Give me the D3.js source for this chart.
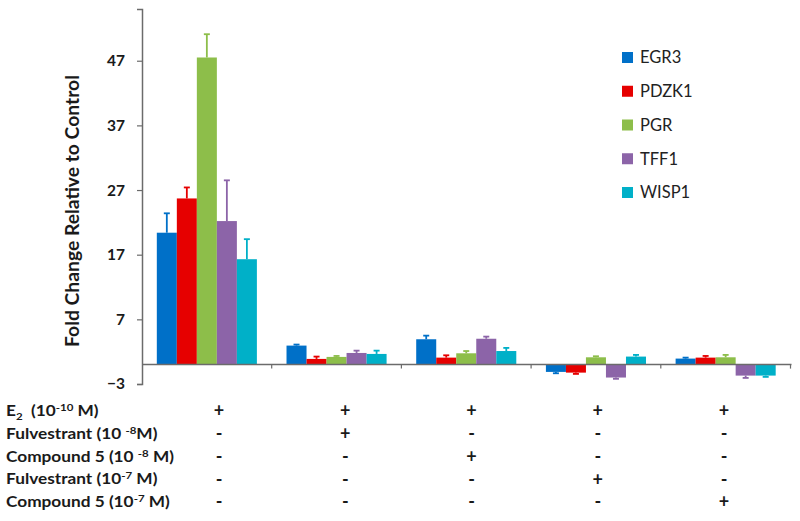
<!DOCTYPE html>
<html>
<head>
<meta charset="utf-8">
<script src="https://cdn.jsdelivr.net/npm/d3@7"></script>
<style>
  html, body { margin: 0; padding: 0; background: #fff; }
  svg { display: block; font-family: Lato, "Open Sans", sans-serif; }
</style>
</head>
<body>
<svg id="chart" width="800" height="521"></svg>
<script>
// ---- data ----
const groups = ["G1", "G2", "G3", "G4", "G5"];
const series = ["EGR3", "PDZK1", "PGR", "TFF1", "WISP1"];
const colors = ["#0070C8", "#E60000", "#8DBE4A", "#8C64A8", "#00B0C8"];
// values per series across the 5 groups
const EGR3  = [20.4, 2.94, 3.92, -1.13, 0.93];
const PDZK1 = [25.7, 0.88, 1.08, -1.24, 1.08];
const PGR   = [47.5, 1.19, 1.75, 1.13, 1.13];
const TFF1  = [22.2, 1.80, 4.00, -2.00, -1.70];
const WISP1 = [16.3, 1.65, 2.10, 1.24, -1.70];
// one-sided error magnitudes
const EGR3_err  = [3.0, 0.16, 0.56, 0.21, 0.15];
const PDZK1_err = [1.7, 0.36, 0.36, 0.20, 0.26];
const PGR_err   = [3.6, 0.15, 0.35, 0.16, 0.37];
const TFF1_err  = [6.3, 0.36, 0.33, 0.20, 0.36];
const WISP1_err = [3.1, 0.51, 0.48, 0.26, 0.20];
const yTicks = [-3, 7, 17, 27, 37, 47];
const yLabel = "Fold Change Relative to Control";
// treatment table: rows (label parts: text, 0 normal / 1 superscript / -1 subscript)
const rowLabels = [
  [["E", 0], ["2", -1], ["  (10", 0], ["-10", 1], [" M)", 0]],
  [["Fulvestrant (10 ", 0], ["-8", 1], ["M)", 0]],
  [["Compound 5 (10 ", 0], ["-8", 1], [" M)", 0]],
  [["Fulvestrant (10", 0], ["-7", 1], [" M)", 0]],
  [["Compound 5 (10", 0], ["-7", 1], [" M)", 0]]
];
const rowE2    = ["+", "+", "+", "+", "+"];
const rowFul8  = ["-", "+", "-", "-", "-"];
const rowCmp8  = ["-", "-", "+", "-", "-"];
const rowFul7  = ["-", "-", "-", "+", "-"];
const rowCmp7  = ["-", "-", "-", "-", "+"];

const vals = [EGR3, PDZK1, PGR, TFF1, WISP1];
const errs = [EGR3_err, PDZK1_err, PGR_err, TFF1_err, WISP1_err];
const table = [rowE2, rowFul8, rowCmp8, rowFul7, rowCmp7];

const data = groups.map((g, gi) => ({
  group: g,
  bars: series.map((s, si) => ({ series: s, value: vals[si][gi], err: errs[si][gi], color: colors[si] }))
}));

// ---- layout ----
const svg = d3.select("#chart");
const axisColor = "#6b6b6b";
const x0 = d3.scaleBand().domain(groups).range([142, 790.5]).paddingInner(0).paddingOuter(0);
const x1 = d3.scaleBand().domain(series).range([0, x0.bandwidth()]).paddingInner(0).paddingOuter(0.74);
const y = d3.scaleLinear().domain([-3, 55]).range([384, 9]);

// y axis
const yAxis = svg.append("g")
  .attr("transform", "translate(142,0)")
  .call(d3.axisLeft(y).tickValues(yTicks).tickSize(5).tickPadding(12).tickFormat(d3.format("d")));
yAxis.select(".domain").attr("stroke", axisColor).attr("stroke-width", 1.5);
yAxis.selectAll(".tick line").attr("stroke", axisColor).attr("stroke-width", 1.2);
yAxis.selectAll(".tick text")
  .attr("fill", "#1a1a1a").style("font-size", "15.5px").style("font-weight", "bold")
  .style("font-family", "Lato, sans-serif");

// y label
svg.append("text")
  .attr("transform", `translate(79,${(75 + 347) / 2}) rotate(-90)`)
  .attr("text-anchor", "middle")
  .attr("fill", "#1a1a1a")
  .style("font-size", "18.5px").style("font-weight", "bold")
  .attr("textLength", 272).attr("lengthAdjust", "spacingAndGlyphs")
  .text(yLabel);

// bars
const gGroups = svg.selectAll("g.grp").data(data).enter().append("g")
  .attr("class", "grp")
  .attr("transform", d => `translate(${x0(d.group)},0)`);

gGroups.selectAll("rect").data(d => d.bars).enter().append("rect")
  .attr("x", d => x1(d.series))
  .attr("width", x1.bandwidth())
  .attr("y", d => y(Math.max(0, d.value)))
  .attr("height", d => Math.abs(y(d.value) - y(0)))
  .attr("fill", d => d.color);

// error bars (one-sided)
const eb = gGroups.selectAll("g.err").data(d => d.bars).enter().append("g").attr("class", "err");
eb.append("line")
  .attr("x1", d => x1(d.series) + x1.bandwidth() / 2)
  .attr("x2", d => x1(d.series) + x1.bandwidth() / 2)
  .attr("y1", d => y(d.value))
  .attr("y2", d => y(d.value + Math.sign(d.value) * d.err))
  .attr("stroke", d => d.color).attr("stroke-width", 1.8);
eb.append("line")
  .attr("x1", d => x1(d.series) + x1.bandwidth() / 2 - 3)
  .attr("x2", d => x1(d.series) + x1.bandwidth() / 2 + 3)
  .attr("y1", d => y(d.value + Math.sign(d.value) * d.err))
  .attr("y2", d => y(d.value + Math.sign(d.value) * d.err))
  .attr("stroke", d => d.color).attr("stroke-width", 1.8);

// x axis (zero line)
const x0Range = x0.range();
svg.append("line")
  .attr("x1", x0Range[0]).attr("x2", x0Range[1] + 1)
  .attr("y1", y(0)).attr("y2", y(0))
  .attr("stroke", axisColor).attr("stroke-width", 1.5);
svg.selectAll("line.xtick").data(groups).enter().append("line")
  .attr("class", "xtick")
  .attr("x1", d => x0(d) + x0.bandwidth()).attr("x2", d => x0(d) + x0.bandwidth())
  .attr("y1", y(0)).attr("y2", y(0) + 4)
  .attr("stroke", axisColor).attr("stroke-width", 1.2);

// legend
const legend = svg.append("g");
const ly = d3.scalePoint().domain(series).range([57.5, 192.5]);
series.forEach((s, i) => {
  legend.append("rect").attr("x", 622).attr("y", ly(s) - 5.5).attr("width", 11).attr("height", 11).attr("fill", colors[i]);
  legend.append("text").attr("x", 640).attr("y", ly(s)).attr("dy", "0.35em")
    .attr("fill", "#222").style("font-size", "16.5px").text(s);
});

// treatment table
const ry = d3.scalePoint().domain(d3.range(rowLabels.length)).range([411, 502]);
const cx = d3.scalePoint().domain(groups).range([219, 724]);
rowLabels.forEach((parts, ri) => {
  const t = svg.append("text")
    .attr("transform", `translate(6,${ry(ri) + 5}) scale(1.15,1)`)
    .attr("fill", "#1a1a1a").style("font-size", "15px").style("font-weight", "bold")
    .attr("xml:space", "preserve");
  let shift = 0;
  parts.forEach(([txt, pos]) => {
    const target = pos === 1 ? -5 : pos === -1 ? 4 : 0;
    const ts = t.append("tspan").text(txt);
    if (target - shift !== 0) ts.attr("dy", target - shift);
    if (pos !== 0) ts.style("font-size", "10px");
    shift = target;
  });
  table[ri].forEach((sym, gi) => {
    svg.append("text")
      .attr("x", cx(groups[gi])).attr("y", ry(ri)).attr("dy", "0.35em")
      .attr("text-anchor", "middle").attr("fill", "#1a1a1a")
      .style("font-size", "18px").style("font-weight", "bold")
      .text(sym);
  });
});
</script>
</body>
</html>
